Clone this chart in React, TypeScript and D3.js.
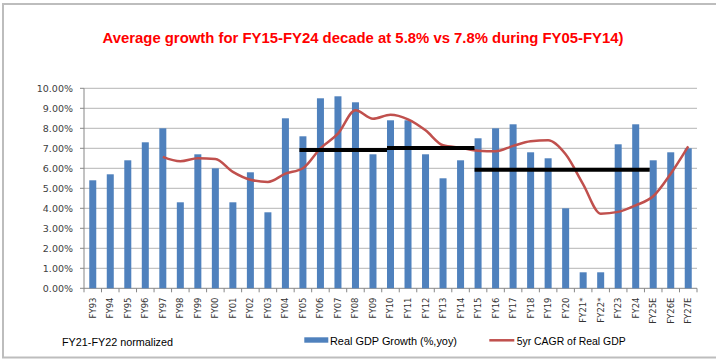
import React from "react";
import * as d3 from "d3";

const categories = [
  "FY93", "FY94", "FY95", "FY96", "FY97", "FY98", "FY99", "FY00", "FY01", "FY02", "FY03",
  "FY04", "FY05", "FY06", "FY07", "FY08", "FY09", "FY10", "FY11", "FY12", "FY13", "FY14",
  "FY15", "FY16", "FY17", "FY18", "FY19", "FY20", "FY21*", "FY22*", "FY23", "FY24",
  "FY25E", "FY26E", "FY27E",
];

const gdpGrowth = [
  5.4, 5.7, 6.4, 7.3, 8.0, 4.3, 6.7, 6.0, 4.3, 5.8, 3.8,
  8.5, 7.6, 9.5, 9.6, 9.3, 6.7, 8.4, 8.4, 6.7, 5.5, 6.4,
  7.5, 8.0, 8.2, 6.8, 6.5, 4.0, 0.8, 0.8, 7.2, 8.2,
  6.4, 6.8, 7.0,
];

const cagr5yr: (number | null)[] = [
  null, null, null, null, 6.57, 6.35, 6.5, 6.47, 5.82, 5.43, 5.32,
  5.73, 6.0, 7.0, 7.73, 8.9, 8.48, 8.68, 8.45, 7.9, 7.15, 7.03,
  6.88, 6.85, 7.12, 7.35, 7.4, 6.7, 5.2, 3.73, 3.82, 4.15,
  4.6, 5.73, 7.1,
];

const avgFrom = ["FY05", "FY10", "FY15"];
const avgTo = ["FY10", "FY15", "FY25E"];
const avgValues = [6.92, 7.02, 5.93];

const yTicks = [0, 1, 2, 3, 4, 5, 6, 7, 8, 9, 10];

const title = "Average growth for FY15-FY24 decade at 5.8% vs 7.8% during FY05-FY14)";
const noteText = "FY21-FY22 normalized";
const barLegend = "Real GDP Growth (%,yoy)";
const lineLegend = "5yr CAGR of Real GDP";

const W = 716;
const H = 359;
const plot = { left: 84, right: 697, top: 88.3, bottom: 288.3 };

export default function App() {
  const x = d3.scaleBand<string>().domain(categories).range([plot.left, plot.right]).padding(0);
  const y = d3.scaleLinear().domain([0, 10]).range([plot.bottom, plot.top]);
  const step = x.step();
  const barW = step * 0.4;
  const cx = (c: string) => (x(c) as number) + step / 2;

  const lineData = categories
    .map((c, i) => ({ c, v: cagr5yr[i] }))
    .filter((d) => d.v !== null) as { c: string; v: number }[];
  const line = d3
    .line<{ c: string; v: number }>()
    .x((d) => cx(d.c))
    .y((d) => y(d.v))
    .curve(d3.curveMonotoneX);

  const fmt = (v: number) => v.toFixed(2) + "%";

  return (
    <svg width={W} height={H} style={{ position: "absolute", left: 0, top: 0 }}>
      <rect x={0} y={0} width={W} height={H} fill="#fff" />
      <rect x={3} y={4} width={W + 10} height={353.5} fill="none" stroke="#BDBDBD" strokeWidth={2} />
      <text
        x={363}
        y={43.3}
        textAnchor="middle"
        fill="#FF0000"
        fontFamily="Liberation Sans, Arial, sans-serif"
        fontWeight="bold"
        fontSize={15.5}
        textLength={521}
        lengthAdjust="spacingAndGlyphs"
      >
        {title}
      </text>

      {yTicks.map((t) => (
        <g key={t}>
          <line x1={plot.left} x2={plot.right} y1={y(t)} y2={y(t)} stroke={t === 0 ? "#868686" : "#B5B5B5"} strokeWidth={1} />
          <line x1={plot.left - 4} x2={plot.left} y1={y(t)} y2={y(t)} stroke="#868686" strokeWidth={1} />
          <text
            x={73}
            y={y(t)}
            dy="0.35em"
            textAnchor="end"
            fill="#404040"
            fontFamily="DejaVu Sans, Verdana, sans-serif"
            fontSize={9.5}
          >
            {fmt(t)}
          </text>
        </g>
      ))}
      <line x1={plot.left} x2={plot.left} y1={plot.top} y2={plot.bottom} stroke="#868686" strokeWidth={1} />

      {categories.map((c) => (
        <line key={"t" + c} x1={x(c) as number} x2={x(c) as number} y1={plot.bottom} y2={plot.bottom + 4} stroke="#868686" />
      ))}
      <line x1={plot.right} x2={plot.right} y1={plot.bottom} y2={plot.bottom + 4} stroke="#868686" />

      {categories.map((c, i) => (
        <rect
          key={"b" + c}
          x={cx(c) - barW / 2}
          y={y(gdpGrowth[i])}
          width={barW}
          height={y(0) - y(gdpGrowth[i])}
          fill="#4F81BD"
        />
      ))}

      {categories.map((c) => (
        <text
          key={"l" + c}
          transform={`translate(${cx(c)},${297.5}) rotate(-90)`}
          dy="0.35em"
          textAnchor="end"
          fill="#333"
          fontFamily="DejaVu Sans, Verdana, sans-serif"
          fontSize={8.5}
        >
          {c}
        </text>
      ))}

      <path d={line(lineData) || ""} fill="none" stroke="#C0504D" strokeWidth={2.5} strokeLinejoin="round" />

      {avgValues.map((v, i) => (
        <line
          key={"a" + i}
          x1={(x(avgFrom[i]) as number) + step * 0.3}
          x2={(x(avgTo[i]) as number) + step * 0.3}
          y1={y(v)}
          y2={y(v)}
          stroke="#000"
          strokeWidth={4}
        />
      ))}

      <text x={62} y={346} fill="#000" fontFamily="Liberation Sans, Arial, sans-serif" fontSize={11} textLength={111} lengthAdjust="spacingAndGlyphs">
        {noteText}
      </text>
      <rect x={304.3} y={337.3} width={24} height={5.4} fill="#4F81BD" />
      <text x={330} y={345} fill="#000" fontFamily="Liberation Sans, Arial, sans-serif" fontSize={11} textLength={127} lengthAdjust="spacingAndGlyphs">
        {barLegend}
      </text>
      <line x1={489.3} x2={514.3} y1={340.3} y2={340.3} stroke="#C0504D" strokeWidth={2.5} />
      <text x={516.7} y={345} fill="#000" fontFamily="Liberation Sans, Arial, sans-serif" fontSize={11} textLength={109} lengthAdjust="spacingAndGlyphs">
        {lineLegend}
      </text>
    </svg>
  );
}
